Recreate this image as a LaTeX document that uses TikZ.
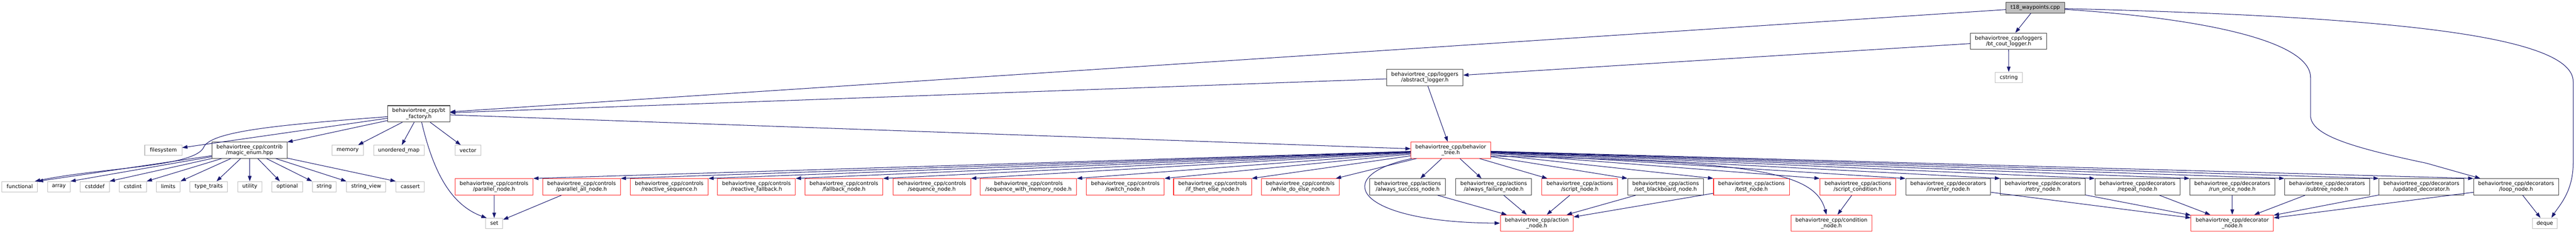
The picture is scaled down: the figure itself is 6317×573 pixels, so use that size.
\documentclass[tikz,border=0pt]{standalone}
\usepackage{fontspec}
\setmainfont{DejaVu Sans}
\usetikzlibrary{arrows.meta}
\definecolor{edgec}{HTML}{191970}
\definecolor{redc}{HTML}{FF2A2A}
\definecolor{blkc}{HTML}{404040}
\definecolor{extc}{HTML}{BFBFBF}
\definecolor{rootc}{HTML}{BFBFBF}
\begin{document}
\begin{tikzpicture}[x=1pt,y=-1pt,font=\fontsize{12.9}{14}\selectfont,
  box/.style={rectangle,line width=1.3pt,inner sep=0pt,align=center,minimum height=40pt},
  bnode/.style={box,draw=blkc},
  rnode/.style={box,draw=redc},
  gnode/.style={box,draw=extc,minimum height=25pt},
  rootn/.style={box,draw=blkc,fill=rootc,minimum height=26pt},
  e/.style={draw=edgec,line width=1.3pt,-{Triangle[length=13pt,width=9pt]}}]
\useasboundingbox (0,0) rectangle (6317,573);

% row 0-3
\node[rootn,minimum width=144pt] (root) at (4991,19) {t18\_waypoints.cpp};
\node[bnode,minimum width=187pt] (cout) at (4925.5,101) {behaviortree\_cpp/loggers\\/bt\_cout\_logger.h};
\node[bnode,minimum width=187pt] (abs) at (3494,190) {behaviortree\_cpp/loggers\\/abstract\_logger.h};
\node[gnode,minimum width=66pt,minimum height=26pt] (cstr) at (4926,190) {cstring};
\node[bnode,minimum width=152pt] (fact) at (1027,279) {behaviortree\_cpp/bt\\\_factory.h};

% row 4
\node[gnode,minimum width=91pt] (fs) at (400.5,368.5) {filesystem};
\node[bnode,minimum width=184pt] (magic) at (612,368) {behaviortree\_cpp/contrib\\/magic\_enum.hpp};
\node[gnode,minimum width=77pt] (mem) at (852.5,368.5) {memory};
\node[gnode,minimum width=124pt] (umap) at (978,368.5) {unordered\_map};
\node[gnode,minimum width=63pt] (vec) at (1147.5,368.5) {vector};
\node[rnode,minimum width=195pt] (bt) at (3557.5,368) {behaviortree\_cpp/behavior\\\_tree.h};

% row 5 system headers
\node[gnode,minimum width=87pt] (func) at (48.5,457.5) {functional};
\node[gnode,minimum width=55pt] (arr) at (144.5,457.5) {array};
\node[gnode,minimum width=71pt] (cdef) at (232.5,457.5) {cstddef};
\node[gnode,minimum width=67pt] (cint) at (325.5,457.5) {cstdint};
\node[gnode,minimum width=59pt] (lim) at (412.5,457.5) {limits};
\node[gnode,minimum width=92pt] (tt) at (512,457.5) {type\_traits};
\node[gnode,minimum width=59pt] (util) at (612.5,457.5) {utility};
\node[gnode,minimum width=75pt] (opt) at (704.5,457.5) {optional};
\node[gnode,minimum width=58pt] (str) at (795,457.5) {string};
\node[gnode,minimum width=96pt] (sv) at (898,457.5) {string\_view};
\node[gnode,minimum width=70pt] (cas) at (1006,457.5) {cassert};

% row 5 controls
\node[rnode,minimum width=191pt] (pn) at (1211.5,458) {behaviortree\_cpp/controls\\/parallel\_node.h};
\node[rnode,minimum width=191pt] (pan) at (1426,458) {behaviortree\_cpp/controls\\/parallel\_all\_node.h};
\node[rnode,minimum width=191pt] (rs) at (1641,458) {behaviortree\_cpp/controls\\/reactive\_sequence.h};
\node[rnode,minimum width=191pt] (rf) at (1855,458) {behaviortree\_cpp/controls\\/reactive\_fallback.h};
\node[rnode,minimum width=191pt] (fb) at (2069.5,458) {behaviortree\_cpp/controls\\/fallback\_node.h};
\node[rnode,minimum width=191pt] (seq) at (2285,458) {behaviortree\_cpp/controls\\/sequence\_node.h};
\node[rnode,minimum width=236pt] (swm) at (2522,458) {behaviortree\_cpp/controls\\/sequence\_with\_memory\_node.h};
\node[rnode,minimum width=191pt] (sw) at (2759.5,458) {behaviortree\_cpp/controls\\/switch\_node.h};
\node[rnode,minimum width=191pt] (ite) at (2973.5,458) {behaviortree\_cpp/controls\\/if\_then\_else\_node.h};
\node[rnode,minimum width=191pt] (wde) at (3188.5,458) {behaviortree\_cpp/controls\\/while\_do\_else\_node.h};

% row 5 actions
\node[bnode,minimum width=186pt] (as) at (3452,458) {behaviortree\_cpp/actions\\/always\_success\_node.h};
\node[bnode,minimum width=186pt] (af) at (3663,458) {behaviortree\_cpp/actions\\/always\_failure\_node.h};
\node[rnode,minimum width=186pt] (sn) at (3874,458) {behaviortree\_cpp/actions\\/script\_node.h};
\node[bnode,minimum width=186pt] (sb) at (4084.5,458) {behaviortree\_cpp/actions\\/set\_blackboard\_node.h};
\node[rnode,minimum width=186pt] (tn) at (4295,458) {behaviortree\_cpp/actions\\/test\_node.h};
\node[rnode,minimum width=186pt] (sc) at (4556,458) {behaviortree\_cpp/actions\\/script\_condition.h};

% row 5 decorators
\node[bnode,minimum width=208pt] (inv) at (4777.5,458) {behaviortree\_cpp/decorators\\/inverter\_node.h};
\node[bnode,minimum width=208pt] (ret) at (5009.5,458) {behaviortree\_cpp/decorators\\/retry\_node.h};
\node[bnode,minimum width=208pt] (rep) at (5241.5,458) {behaviortree\_cpp/decorators\\/repeat\_node.h};
\node[bnode,minimum width=208pt] (ro) at (5474,458) {behaviortree\_cpp/decorators\\/run\_once\_node.h};
\node[bnode,minimum width=208pt] (st) at (5706.5,458) {behaviortree\_cpp/decorators\\/subtree\_node.h};
\node[bnode,minimum width=208pt] (ud) at (5938,458) {behaviortree\_cpp/decorators\\/updated\_decorator.h};
\node[bnode,minimum width=208pt] (lp) at (6170,458) {behaviortree\_cpp/decorators\\/loop\_node.h};

% row 6
\node[gnode,minimum width=42pt] (set) at (1212,547.5) {set};
\node[rnode,minimum width=179pt] (act) at (3768.5,547) {behaviortree\_cpp/action\\\_node.h};
\node[rnode,minimum width=198pt] (cond) at (4491,547) {behaviortree\_cpp/condition\\\_node.h};
\node[rnode,minimum width=202pt] (dec) at (5474,547) {behaviortree\_cpp/decorator\\\_node.h};
\node[gnode,minimum width=61pt,minimum height=26pt] (dq) at (6240.5,547.5) {deque};

% edges from root
\draw[e] (root) -- (cout);
\draw[e] (root) -- (fact);
\draw[e] ([yshift=-4pt]root.east) .. controls (5400,45) and (5666,100) .. (5666,190) -- (5666,283) .. controls (5666,330) and (5760,360) .. (5950,400) -- ([xshift=17pt]lp.north west);
\draw[e] ([yshift=-2pt]root.east) .. controls (5800,40) and (6310,80) .. (6310,200) -- (6310,400) .. controls (6310,470) and (6275,505) .. ([xshift=-15pt]dq.north east);

% loggers
\draw[e] (cout) -- (cstr);
\draw[e] (cout) -- (abs);
\draw[e] (abs) -- (fact);
\draw[e] (abs) -- (bt);

% bt_factory
\draw[e] (fact) -- (fs);
\draw[e] (fact) -- (magic);
\draw[e] (fact) -- (mem);
\draw[e] (fact) -- (umap);
\draw[e] (fact) -- (vec);
\draw[e] (fact) -- (bt);
\draw[e] ([yshift=-7pt]fact.west) .. controls (700,305) and (520,320) .. (500,360) .. controls (480,410) and (250,410) .. ([xshift=-7pt]func.north east);
\draw[e] ([xshift=7pt]fact.south) .. controls (1060,410) and (1100,500) .. ([xshift=3pt]set.north west);

% magic_enum
\foreach \t in {func,arr,cdef,cint,lim} \draw[e] (magic) -- (\t.north east);
\draw[e] (magic) -- ([xshift=19pt]tt.north);
\draw[e] (magic) -- (util.north);
\draw[e] (magic) -- ([xshift=20pt]opt.north west);
\foreach \t in {str,sv,cas} \draw[e] (magic) -- (\t.north west);

% behavior_tree.h fan
\foreach \t in {pn,pan,rs,rf,fb,seq,swm,sw,ite} \draw[e] (bt) -- (\t.north east);
\draw[e] (bt) -- ([xshift=-9pt]wde.north east);
\draw[e] (bt) -- ([xshift=31pt]as.north);
\draw[e] (bt) -- ([xshift=-30pt]af.north);
\draw[e] (bt) -- ([xshift=14pt]sn.north west);
\foreach \t in {sb,tn,sc,inv,ret,rep,ro,st,ud,lp} \draw[e] (bt) -- (\t.north west);
\draw[e] ([xshift=3pt]bt.south west) .. controls (3260,430) and (3320,545) .. (act.west);
\draw[e] ([yshift=6pt]bt.south east) .. controls (4300,395) and (4450,420) .. ([xshift=-12pt]cond.north);

% lower edges
\foreach \t in {as,af,sn,sb,tn} \draw[e] (\t) -- (act);
\draw[e] (sc) -- (cond);
\foreach \t in {inv,ret,rep,ro,st,ud,lp} \draw[e] (\t) -- (dec);
\draw[e] (lp) -- (dq);
\draw[e] (pn) -- (set);
\draw[e] (pan) -- (set);
\end{tikzpicture}
\end{document}
